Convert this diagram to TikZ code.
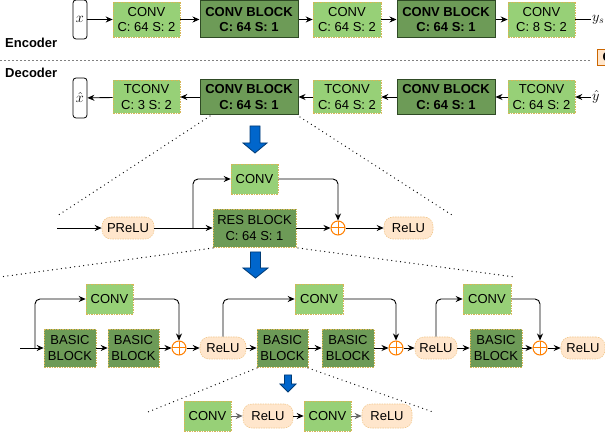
\documentclass[tikz,border=0pt]{standalone}
\usepackage{fontspec}
\setmainfont{Liberation Sans}
\usetikzlibrary{arrows.meta,calc}
\definecolor{lgreen}{HTML}{97D077}
\definecolor{dgreen}{HTML}{6D9B57}
\definecolor{bxborder}{HTML}{D6B656}
\definecolor{cbborder}{HTML}{2F4A25}
\definecolor{relufill}{HTML}{FFE6CC}
\definecolor{reluborder}{HTML}{F2C98F}
\definecolor{orgc}{HTML}{FF8000}
\definecolor{blueA}{HTML}{0066CC}
\definecolor{blueB}{HTML}{003B75}
\tikzset{
  txt/.style={font=\fontsize{13}{15.5}\selectfont, align=center, inner sep=0pt},
  lg/.style={txt, rectangle, fill=lgreen, draw=bxborder, line width=0.6pt, dash pattern=on 1.5pt off 1pt},
  dg/.style={txt, rectangle, fill=dgreen, draw=bxborder, line width=0.6pt, dash pattern=on 1.5pt off 1pt},
  cb/.style={txt, rectangle, fill=dgreen, draw=cbborder, line width=1pt, font=\fontsize{13}{15.5}\selectfont\bfseries},
  relu/.style={txt, rectangle, rounded corners=9pt, fill=relufill, draw=reluborder, line width=0.6pt, dash pattern=on 1.5pt off 1pt},
  io/.style={rectangle, rounded corners=3pt, draw=black, line width=0.8pt, inner sep=0pt, font=\fontsize{14}{16}\selectfont},
  plus/.style={circle, draw=orgc, line width=1pt, minimum size=14pt, inner sep=0pt,
    path picture={\draw[orgc, line width=1pt] (path picture bounding box.north) -- (path picture bounding box.south) (path picture bounding box.west) -- (path picture bounding box.east);}},
  arr/.style={line width=0.9pt, -{Stealth[length=7pt,width=6pt]}},
  ln/.style={line width=0.9pt},
  zoomline/.style={line width=1.3pt, line cap=round, dash pattern=on 0pt off 4.5pt},
  bluearrow/.style={fill=blueA, draw=blueB, line width=0.8pt, line join=miter},
  lbl/.style={font=\fontsize{13}{15}\selectfont\bfseries, inner sep=0pt}
}
\begin{document}
\begin{tikzpicture}[x=1pt,y=-1pt]
\useasboundingbox (0,0) rectangle (605,435);
\clip (0,0) rectangle (605,435);
\fill[white] (0,0) rectangle (605,435);

% ---------- Encoder ----------
\node[io, minimum width=14, minimum height=39] (xin) at (80,19.5) {$x$};
\node[lg, minimum width=67, minimum height=35] (e1) at (146.5,19.5) {CONV\\C: 64 S: 2};
\node[cb, minimum width=98, minimum height=37] (e2) at (249,19.5) {CONV BLOCK\\C: 64 S: 1};
\node[lg, minimum width=68, minimum height=35] (e3) at (347,19.5) {CONV\\C: 64 S: 2};
\node[cb, minimum width=98, minimum height=37] (e4) at (446,19.5) {CONV BLOCK\\C: 64 S: 1};
\node[lg, minimum width=67, minimum height=35] (e5) at (541.5,19.5) {CONV\\C: 8 S: 2};
\node[anchor=west, inner sep=1pt, font=\fontsize{14}{16}\selectfont] (ys) at (591,19.5) {$y_s$};
\draw[arr] (xin) -- (e1);
\draw[arr] (e1) -- (e2);
\draw[arr] (e2) -- (e3);
\draw[arr] (e3) -- (e4);
\draw[arr] (e4) -- (e5);
\draw[ln] (e5) -- (ys);

\node[lbl, anchor=west] (enc) at (5,43) {Encoder};
\coordinate (sepL) at (0,60);
\coordinate (sepR) at (590,60);
\draw[gray, line width=0.7pt, dash pattern=on 2pt off 2pt] (sepL) -- (sepR);
\node[lbl, anchor=west] (dec) at (5,73) {Decoder};
\node[txt, anchor=west, fill=relufill, draw=orgc!80!black, line width=0.8pt, minimum height=16, minimum width=20, font=\fontsize{13}{15}\selectfont\bfseries] (side) at (597,57) {C};

% ---------- Decoder ----------
\node[io, minimum width=14, minimum height=40] (xhat) at (80,98) {$\hat{x}$};
\node[lg, minimum width=67, minimum height=33] (d1) at (146.5,97) {TCONV\\C: 3 S: 2};
\node[cb, minimum width=98, minimum height=35] (d2) at (249,97) {CONV BLOCK\\C: 64 S: 1};
\node[lg, minimum width=68, minimum height=33] (d3) at (347,97) {TCONV\\C: 64 S: 2};
\node[cb, minimum width=98, minimum height=35] (d4) at (446,97) {CONV BLOCK\\C: 64 S: 1};
\node[lg, minimum width=67, minimum height=33] (d5) at (541.5,97) {TCONV\\C: 64 S: 2};
\node[anchor=west, inner sep=1pt, font=\fontsize{14}{16}\selectfont] (yhat) at (591,97) {$\hat{y}$};
\draw[arr] (yhat) -- (d5);
\draw[arr] (d5) -- (d4);
\draw[arr] (d4) -- (d3);
\draw[arr] (d3) -- (d2);
\draw[arr] (d2) -- (d1);
\draw[arr] (d1) -- (xhat);

% zoom lines 1
\coordinate (z1a) at (210,116); \coordinate (z1b) at (57,216);
\coordinate (z1c) at (300,117); \coordinate (z1d) at (455,217);
\draw[zoomline] (z1a) -- (z1b);
\draw[zoomline] (z1c) -- (z1d);
\draw[bluearrow] (250,126) -- (260,126) -- (260,143) -- (267,143) -- (255,153) -- (243,143) -- (250,143) -- cycle;

% ---------- Conv block detail ----------
\coordinate (in1) at (57,228);
\node[relu, minimum width=52, minimum height=22] (prelu) at (128,228) {PReLU};
\node[lg, minimum width=47, minimum height=30] (convm) at (254.5,179) {CONV};
\node[dg, minimum width=83, minimum height=38] (res) at (254.5,228) {RES BLOCK\\C: 64 S: 1};
\node[plus] (pm) at (338,228) {};
\node[relu, minimum width=49, minimum height=22] (relum) at (408.5,228) {ReLU};
\coordinate (b1) at (193,228);
\draw[arr] (in1) -- (prelu);
\draw[arr] (prelu) -- (res);
\draw[arr, rounded corners=5pt] (b1) |- (convm.west);
\draw[arr, rounded corners=5pt] (convm.east) -| (pm.north);
\draw[arr] (res) -- (pm);
\draw[arr] (pm) -- (relum);

% zoom lines 2
\coordinate (z2a) at (213,248); \coordinate (z2b) at (0,277);
\coordinate (z2c) at (298,248); \coordinate (z2d) at (515,277);
\draw[zoomline] (z2a) -- (z2b);
\draw[zoomline] (z2c) -- (z2d);
\draw[bluearrow] (250.5,252) -- (260.5,252) -- (260.5,268) -- (268,268) -- (255.5,278) -- (243,268) -- (250.5,268) -- cycle;

% ---------- Res block detail ----------
\coordinate (in2) at (20,348);
\coordinate (b2) at (35,348);
\node[dg, minimum width=52, minimum height=38] (bb1) at (70,348) {BASIC\\BLOCK};
\node[dg, minimum width=51, minimum height=38] (bb2) at (133.5,348) {BASIC\\BLOCK};
\node[lg, minimum width=47, minimum height=30] (cv1) at (109.5,299) {CONV};
\node[plus] (p1) at (179,348) {};
\node[relu, minimum width=46, minimum height=22] (r1) at (223,348) {ReLU};
\node[dg, minimum width=51, minimum height=38] (bb3) at (282.5,348) {BASIC\\BLOCK};
\node[lg, minimum width=48, minimum height=30] (cv2) at (319,299) {CONV};
\node[dg, minimum width=52, minimum height=38] (bb4) at (348,348) {BASIC\\BLOCK};
\node[plus] (p2) at (396,348) {};
\node[relu, minimum width=42, minimum height=22] (r2) at (436,348) {ReLU};
\node[lg, minimum width=48, minimum height=30] (cv3) at (487,299) {CONV};
\node[dg, minimum width=52, minimum height=38] (bb5) at (496,348) {BASIC\\BLOCK};
\node[plus] (p3) at (540,348) {};
\node[relu, minimum width=44, minimum height=22] (r3) at (583,348) {ReLU};

\draw[arr] (in2) -- (bb1);
\draw[arr, rounded corners=5pt] (b2) |- (cv1.west);
\draw[arr] (bb1) -- (bb2);
\draw[arr] (bb2) -- (p1);
\draw[arr, rounded corners=5pt] (cv1.east) -| (p1.north);
\draw[arr] (p1) -- (r1);
\draw[arr] (r1) -- (bb3);
\draw[arr, rounded corners=5pt] (r1.north) |- (cv2.west);
\draw[arr] (bb3) -- (bb4);
\draw[arr] (bb4) -- (p2);
\draw[arr, rounded corners=5pt] (cv2.east) -| (p2.north);
\draw[arr] (p2) -- (r2);
\draw[arr] (r2) -- (bb5);
\draw[arr, rounded corners=5pt] (r2.north) |- (cv3.west);
\draw[arr] (bb5) -- (p3);
\draw[arr, rounded corners=5pt] (cv3.east) -| (p3.north);
\draw[arr] (p3) -- (r3);

% zoom lines 3
\coordinate (z3a) at (257,368); \coordinate (z3b) at (148,412);
\coordinate (z3c) at (308,368); \coordinate (z3d) at (433,412);
\draw[zoomline] (z3a) -- (z3b);
\draw[zoomline] (z3c) -- (z3d);
\draw[bluearrow] (284.5,375) -- (291.5,375) -- (291.5,384) -- (296,384) -- (288,392) -- (280,384) -- (284.5,384) -- cycle;

% ---------- Basic block detail ----------
\node[lg, minimum width=47, minimum height=30] (c1) at (207.5,416) {CONV};
\node[relu, minimum width=50, minimum height=24] (l1) at (268,416) {ReLU};
\node[lg, minimum width=47, minimum height=30] (c2) at (327.5,416) {CONV};
\node[relu, minimum width=50, minimum height=24] (l2) at (387,416) {ReLU};
\draw[arr, draw=gray!80!black] (c1) -- (l1);
\draw[arr] (l1) -- (c2);
\draw[arr, draw=gray!80!black] (c2) -- (l2);
\end{tikzpicture}
\end{document}
